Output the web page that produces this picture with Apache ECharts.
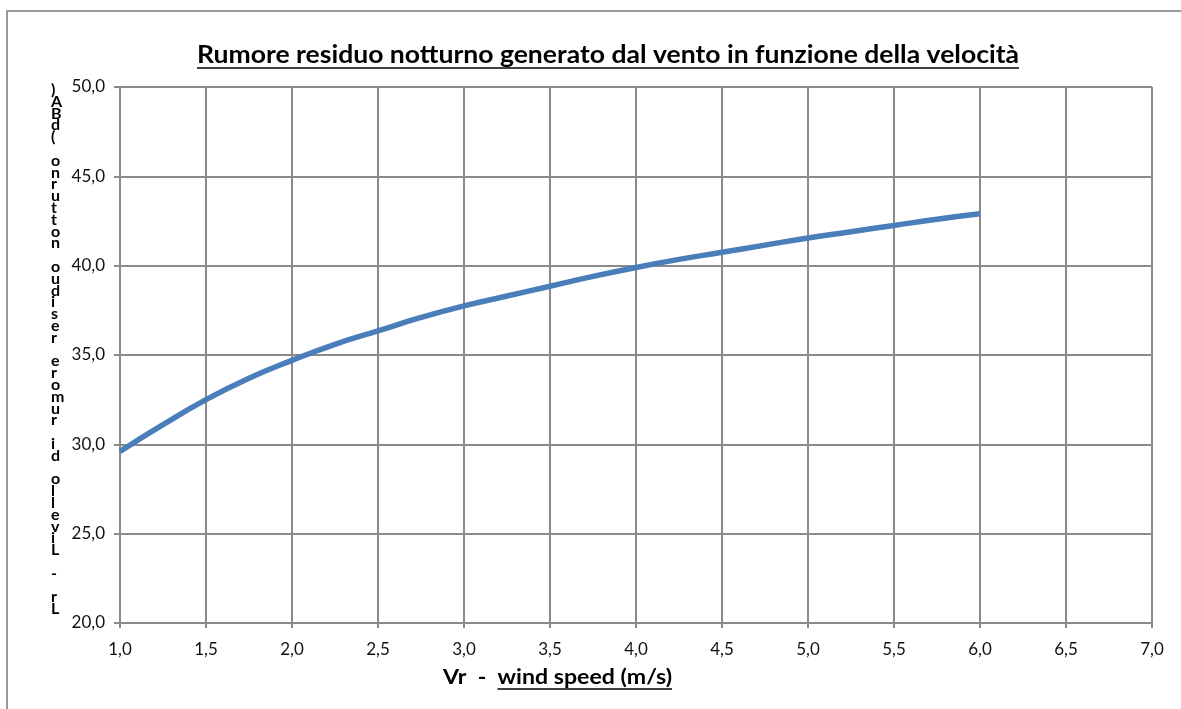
<!DOCTYPE html>
<html>
<head>
<meta charset="utf-8">
<script src="https://cdn.jsdelivr.net/npm/echarts@6/dist/echarts.min.js"></script>
<style>html,body{margin:0;padding:0;background:#fff}#c{width:1181px;height:709px}</style>
</head>
<body>
<div id="c"></div>
<script>
var titleText = 'Rumore residuo notturno generato dal vento in funzione della velocità';
var xTitlePrefix = 'Vr  -  ';
var xTitleMain = 'wind speed (m/s)';
var yTitle = 'Lr - Livello di rumore residuo notturno (dBA)';
var windSpeed = [1.0, 1.25, 1.5, 1.75, 2.0, 2.25, 2.5, 2.75, 3.0, 3.25, 3.5, 3.75, 4.0, 4.25, 4.5, 4.75, 5.0, 5.25, 5.5, 5.75, 6.0];
var noiseLevel = [29.6, 31.1, 32.5, 33.7, 34.7, 35.6, 36.35, 37.1, 37.75, 38.3, 38.85, 39.4, 39.9, 40.35, 40.75, 41.15, 41.55, 41.9, 42.25, 42.6, 42.9];

var chart = echarts.init(document.getElementById('c'));
var fmt = function (v) { return v.toFixed(1).replace('.', ','); };
var gridColor = '#8a8a8a';
var font = 'Lato, "Open Sans", sans-serif';
var stacked = yTitle.split('').reverse().join('\n');

var ctx = document.createElement('canvas').getContext('2d');
function measure(txt, f) { ctx.font = f; return ctx.measureText(txt).width; }

var titleFont = 'bold 25px ' + font;
var titleW = measure(titleText, titleFont);
var titleScale = 822 / titleW;

var xtFont = 'bold 20px ' + font;
var xtW = measure(xTitlePrefix + xTitleMain, xtFont);
var xtScale = 229 / xtW;
var prefW = measure(xTitlePrefix, xtFont) * xtScale;

chart.setOption({
  animation: false,
  backgroundColor: '#fff',
  grid: { left: 120, top: 87, width: 1032, height: 536, containLabel: false },
  xAxis: {
    type: 'value', min: 1, max: 7, interval: 0.5,
    axisLine: { show: true, lineStyle: { color: gridColor, width: 2 } },
    axisTick: { show: true, length: 5, lineStyle: { color: gridColor, width: 2 } },
    splitLine: { show: true, lineStyle: { color: gridColor, width: 2 } },
    axisLabel: { formatter: fmt, color: '#111', fontSize: 17, fontFamily: font, margin: 18 }
  },
  yAxis: {
    type: 'value', min: 20, max: 50, interval: 5,
    axisLine: { show: true, lineStyle: { color: gridColor, width: 2 } },
    axisTick: { show: true, length: 6, lineStyle: { color: gridColor, width: 2 } },
    splitLine: { show: true, lineStyle: { color: gridColor, width: 2 } },
    axisLabel: { formatter: fmt, color: '#111', fontSize: 17, fontFamily: font, margin: 15 }
  },
  series: [{
    type: 'line',
    data: windSpeed.map(function (x, i) { return [x, noiseLevel[i]]; }),
    smooth: true,
    showSymbol: false,
    lineStyle: { color: '#4a7ebb', width: 5.5 },
    itemStyle: { color: '#4a7ebb' }
  }],
  graphic: [
    { type: 'rect', shape: { x: 7, y: 11, width: 1300, height: 900 }, style: { fill: 'none', stroke: '#9a9a9a', lineWidth: 2 }, z: -1 },
    { type: 'text', x: 197, y: 55, scaleX: titleScale, style: { text: titleText, font: titleFont, fill: '#000', textAlign: 'left', textVerticalAlign: 'middle' } },
    { type: 'line', shape: { x1: 197, y1: 68, x2: 1019, y2: 68 }, style: { stroke: '#000', lineWidth: 1.6 } },
    { type: 'text', x: 443, y: 678, scaleX: xtScale, style: { text: xTitlePrefix + xTitleMain, font: xtFont, fill: '#000', textAlign: 'left', textVerticalAlign: 'middle' } },
    { type: 'line', shape: { x1: 443 + prefW, y1: 689, x2: 672, y2: 689 }, style: { stroke: '#000', lineWidth: 1.6 } },
    { type: 'text', x: 51, y: 84, style: { text: stacked, font: 'bold 16px ' + font, lineHeight: 11.8, fill: '#000', textAlign: 'left', textVerticalAlign: 'top' } }
  ]
});
</script>
</body>
</html>
